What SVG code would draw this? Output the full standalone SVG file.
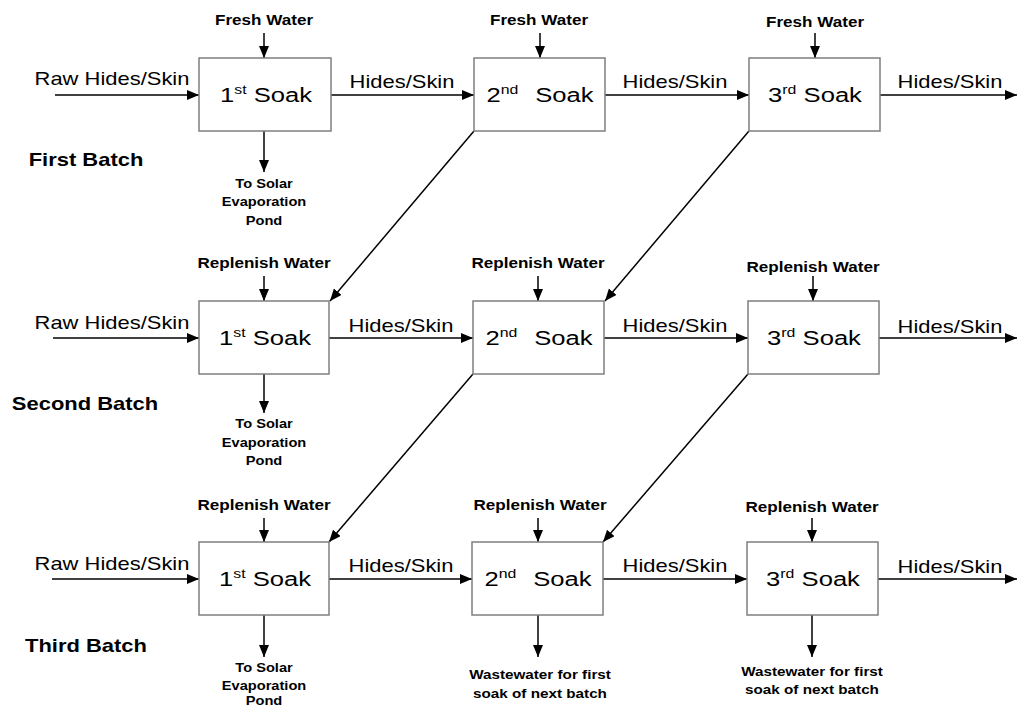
<svg xmlns="http://www.w3.org/2000/svg" width="1018" height="707" viewBox="0 0 1018 707">
<style>
.box{fill:#fff;stroke:#7f7f7f;stroke-width:1.5}
.ln{stroke:#000;stroke-width:1.5;fill:none;marker-end:url(#ah)}
text{font-family:"Liberation Sans",Arial,sans-serif;fill:#000;text-anchor:middle}
.w{font-size:14px;font-weight:bold}
.f{font-size:18px}
.s{font-size:21px}
.b{font-size:18px;font-weight:bold}
.o{font-size:12px;font-weight:bold}
.ww{font-size:12.5px;font-weight:bold}
</style>
<defs>
<marker id="ah" markerUnits="userSpaceOnUse" markerWidth="13" markerHeight="11" refX="12" refY="5" orient="auto">
<path d="M0,0 L12,5 L0,10 Z" fill="#000"/>
</marker>
</defs>
<rect width="1018" height="707" fill="#fff"/>
<g id="connectors">
<line class="ln" x1="55" y1="95" x2="199" y2="95"/>
<line class="ln" x1="331" y1="95" x2="474" y2="95"/>
<line class="ln" x1="605" y1="95" x2="749" y2="95"/>
<line class="ln" x1="880" y1="95" x2="1017" y2="95"/>
<line class="ln" x1="53" y1="338" x2="199" y2="338"/>
<line class="ln" x1="329" y1="338" x2="473" y2="338"/>
<line class="ln" x1="604" y1="338" x2="748" y2="338"/>
<line class="ln" x1="879" y1="338" x2="1017" y2="338"/>
<line class="ln" x1="52" y1="579" x2="199" y2="579"/>
<line class="ln" x1="329" y1="579" x2="472" y2="579"/>
<line class="ln" x1="603" y1="579" x2="747" y2="579"/>
<line class="ln" x1="878" y1="579" x2="1017" y2="579"/>
<line class="ln" x1="264" y1="33" x2="264" y2="58"/>
<line class="ln" x1="540" y1="33" x2="540" y2="58"/>
<line class="ln" x1="815" y1="33" x2="815" y2="58"/>
<line class="ln" x1="264" y1="276" x2="264" y2="301"/>
<line class="ln" x1="538" y1="276" x2="538" y2="301"/>
<line class="ln" x1="813" y1="276" x2="813" y2="301"/>
<line class="ln" x1="264" y1="518" x2="264" y2="542"/>
<line class="ln" x1="538" y1="518" x2="538" y2="542"/>
<line class="ln" x1="812" y1="518" x2="812" y2="542"/>
<line class="ln" x1="264" y1="131" x2="264" y2="172"/>
<line class="ln" x1="264" y1="374" x2="264" y2="413"/>
<line class="ln" x1="264" y1="615" x2="264" y2="657"/>
<line class="ln" x1="538" y1="615" x2="538" y2="657"/>
<line class="ln" x1="812" y1="615" x2="812" y2="657"/>
<line class="ln" x1="474" y1="131" x2="330" y2="301"/>
<line class="ln" x1="749" y1="131" x2="605" y2="301"/>
<line class="ln" x1="473" y1="374" x2="329" y2="542"/>
<line class="ln" x1="748" y1="374" x2="603" y2="542"/>
</g>
<g id="soak-1-1"><rect class="box" x="199" y="58" width="132" height="73"/><text class="s" transform="translate(266,102) scale(1.22,1)">1<tspan font-size="13" dy="-8">st</tspan><tspan dy="8"> Soak</tspan></text></g>
<g id="soak-1-2"><rect class="box" x="474" y="58" width="131" height="73"/><text class="s" transform="translate(540,102) scale(1.22,1)">2<tspan font-size="13" dy="-8">nd</tspan><tspan dy="8" dx="8"> Soak</tspan></text></g>
<g id="soak-1-3"><rect class="box" x="749" y="58" width="131" height="73"/><text class="s" transform="translate(815,102) scale(1.22,1)">3<tspan font-size="13" dy="-8">rd</tspan><tspan dy="8"> Soak</tspan></text></g>
<g id="soak-2-1"><rect class="box" x="199" y="301" width="130" height="73"/><text class="s" transform="translate(265,345) scale(1.22,1)">1<tspan font-size="13" dy="-8">st</tspan><tspan dy="8"> Soak</tspan></text></g>
<g id="soak-2-2"><rect class="box" x="473" y="301" width="131" height="73"/><text class="s" transform="translate(539,345) scale(1.22,1)">2<tspan font-size="13" dy="-8">nd</tspan><tspan dy="8" dx="8"> Soak</tspan></text></g>
<g id="soak-2-3"><rect class="box" x="748" y="301" width="131" height="73"/><text class="s" transform="translate(814,345) scale(1.22,1)">3<tspan font-size="13" dy="-8">rd</tspan><tspan dy="8"> Soak</tspan></text></g>
<g id="soak-3-1"><rect class="box" x="199" y="542" width="130" height="73"/><text class="s" transform="translate(265,586) scale(1.22,1)">1<tspan font-size="13" dy="-8">st</tspan><tspan dy="8"> Soak</tspan></text></g>
<g id="soak-3-2"><rect class="box" x="472" y="542" width="131" height="73"/><text class="s" transform="translate(538,586) scale(1.22,1)">2<tspan font-size="13" dy="-8">nd</tspan><tspan dy="8" dx="8"> Soak</tspan></text></g>
<g id="soak-3-3"><rect class="box" x="747" y="542" width="131" height="73"/><text class="s" transform="translate(813,586) scale(1.22,1)">3<tspan font-size="13" dy="-8">rd</tspan><tspan dy="8"> Soak</tspan></text></g>
<g id="labels">
<text class="w" transform="translate(264,25) scale(1.22,1)">Fresh Water</text>
<text class="w" transform="translate(539,25) scale(1.22,1)">Fresh Water</text>
<text class="w" transform="translate(815,27) scale(1.22,1)">Fresh Water</text>
<text class="w" transform="translate(264,268) scale(1.22,1)">Replenish Water</text>
<text class="w" transform="translate(538,268) scale(1.22,1)">Replenish Water</text>
<text class="w" transform="translate(813,272) scale(1.22,1)">Replenish Water</text>
<text class="w" transform="translate(264,510) scale(1.22,1)">Replenish Water</text>
<text class="w" transform="translate(540,510) scale(1.22,1)">Replenish Water</text>
<text class="w" transform="translate(812,512) scale(1.22,1)">Replenish Water</text>
<text class="f" transform="translate(112,85) scale(1.22,1)">Raw Hides/Skin</text>
<text class="f" transform="translate(112,329) scale(1.22,1)">Raw Hides/Skin</text>
<text class="f" transform="translate(112,570) scale(1.22,1)">Raw Hides/Skin</text>
<text class="f" transform="translate(402,88) scale(1.22,1)">Hides/Skin</text>
<text class="f" transform="translate(675,88) scale(1.22,1)">Hides/Skin</text>
<text class="f" transform="translate(950,88) scale(1.22,1)">Hides/Skin</text>
<text class="f" transform="translate(401,332) scale(1.22,1)">Hides/Skin</text>
<text class="f" transform="translate(675,332) scale(1.22,1)">Hides/Skin</text>
<text class="f" transform="translate(950,333) scale(1.22,1)">Hides/Skin</text>
<text class="f" transform="translate(401,572) scale(1.22,1)">Hides/Skin</text>
<text class="f" transform="translate(675,572) scale(1.22,1)">Hides/Skin</text>
<text class="f" transform="translate(950,573) scale(1.22,1)">Hides/Skin</text>
<text class="b" transform="translate(86,166) scale(1.22,1)">First Batch</text>
<text class="b" transform="translate(85,410) scale(1.22,1)">Second Batch</text>
<text class="b" transform="translate(86,652) scale(1.22,1)">Third Batch</text>
<text class="o" transform="translate(264,188) scale(1.22,1)">To Solar</text>
<text class="o" transform="translate(264,206) scale(1.22,1)">Evaporation</text>
<text class="o" transform="translate(264,225) scale(1.22,1)">Pond</text>
<text class="o" transform="translate(264,428) scale(1.22,1)">To Solar</text>
<text class="o" transform="translate(264,447) scale(1.22,1)">Evaporation</text>
<text class="o" transform="translate(264,465) scale(1.22,1)">Pond</text>
<text class="o" transform="translate(264,672) scale(1.22,1)">To Solar</text>
<text class="o" transform="translate(264,690) scale(1.22,1)">Evaporation</text>
<text class="o" transform="translate(264,705) scale(1.22,1)">Pond</text>
<text class="ww" transform="translate(540,679) scale(1.22,1)">Wastewater for first</text>
<text class="ww" transform="translate(540,698) scale(1.22,1)">soak of next batch</text>
<text class="ww" transform="translate(812,676) scale(1.22,1)">Wastewater for first</text>
<text class="ww" transform="translate(812,694) scale(1.22,1)">soak of next batch</text>
</g>
</svg>
